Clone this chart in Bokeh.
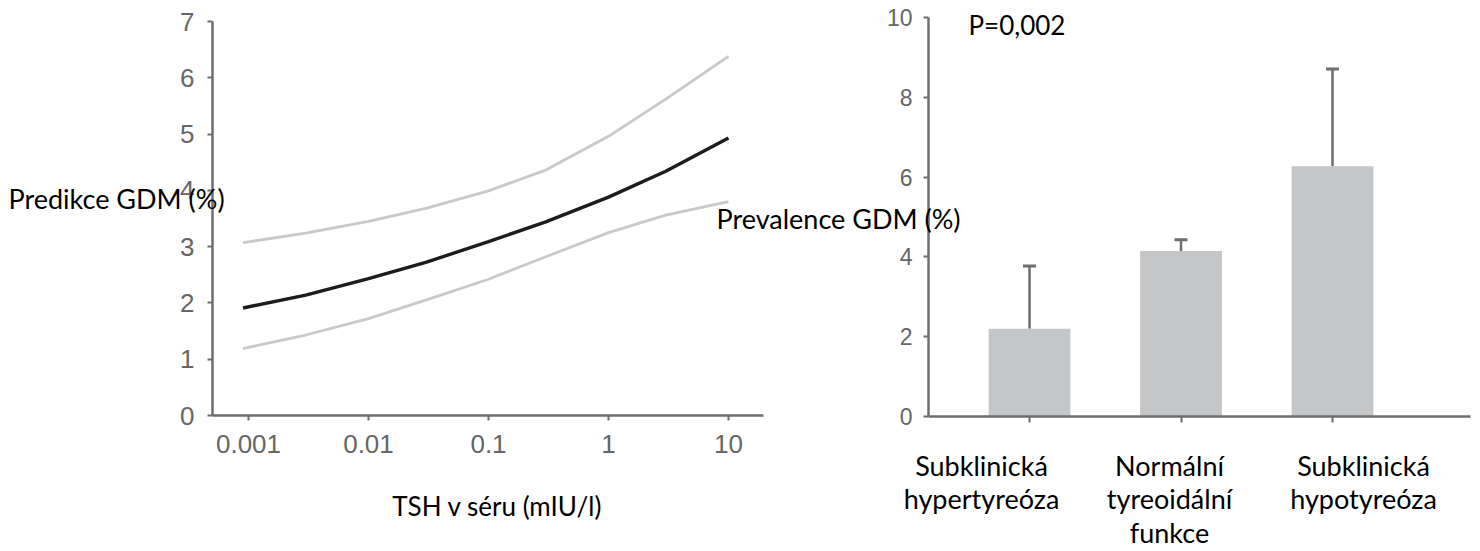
import numpy as np
from bokeh.plotting import figure
from bokeh.models import (Range1d, FixedTicker, NumeralTickFormatter, Label, Whisker,
                          TeeHead, ColumnDataSource, CustomJSTickFormatter)
from bokeh.layouts import row
from bokeh.embed import file_html
from bokeh.resources import INLINE

# ---------------- data: left panel ----------------
tsh = [0.0009, 0.003, 0.01, 0.03, 0.1, 0.3, 1, 3, 10]
gdm_pred = [1.91, 2.14, 2.43, 2.72, 3.09, 3.44, 3.88, 4.34, 4.93]
gdm_upper = [3.07, 3.24, 3.45, 3.68, 3.99, 4.36, 4.96, 5.62, 6.38]
gdm_lower = [1.19, 1.43, 1.72, 2.05, 2.42, 2.82, 3.25, 3.56, 3.80]
x_ticks = [0.001, 0.01, 0.1, 1, 10]
y1_ticks = [0, 1, 2, 3, 4, 5, 6, 7]
x_title = "TSH v séru (mIU/l)"
y1_title = "Predikce  GDM (%)"

# ---------------- data: right panel ----------------
categories = ["Subklinická\nhypertyreóza", "Normální\ntyreoidální\nfunkce", "Subklinická\nhypotyreóza"]
prevalence = [2.2, 4.15, 6.27]
prevalence_upper = [3.77, 4.43, 8.71]
y2_ticks = [0, 2, 4, 6, 8, 10]
y2_title = "Prevalence  GDM (%)"
p_value = "P=0,002"

# ---------------- styles ----------------
AX = "#6e6e6e"
TICK_TXT = "#666666"
TXT_FONT = "Lato"
NUM_FONT = "Liberation Sans"


def no_align(p):
    if "frame_align" in p.properties():
        p.frame_align = False


def style_axes(p, tick_size):
    for ax in (p.xaxis[0], p.yaxis[0]):
        ax.axis_line_color = AX
        ax.axis_line_width = 2.5
        ax.major_tick_line_color = AX
        ax.major_tick_line_width = 2
        ax.major_tick_out = 5
        ax.major_tick_in = 0
        ax.minor_tick_line_color = None
        ax.major_label_text_color = TICK_TXT
        ax.major_label_text_font = NUM_FONT
        ax.major_label_text_font_size = tick_size
    p.xgrid.visible = False
    p.ygrid.visible = False
    p.outline_line_color = None


# ---------------- left figure ----------------
p1 = figure(width=790, height=551, x_axis_type="log",
            x_range=Range1d(10 ** -3.3, 10 ** 1.2917), y_range=Range1d(0, 7),
            output_backend="svg", toolbar_location=None,
            min_border_left=212, min_border_right=27,
            min_border_top=21, min_border_bottom=136)
no_align(p1)
style_axes(p1, "26px")
p1.xaxis.ticker = FixedTicker(ticks=x_ticks)
p1.xaxis.formatter = NumeralTickFormatter(format="0.[000]")
p1.yaxis.ticker = FixedTicker(ticks=y1_ticks)
p1.xaxis.major_label_standoff = 14
p1.yaxis.major_label_standoff = 13

p1.line(tsh, gdm_upper, line_color="#c9c9c9", line_width=2.8)
p1.line(tsh, gdm_lower, line_color="#c9c9c9", line_width=2.8)
p1.line(tsh, gdm_pred, line_color="#1c1c1e", line_width=3.4)

# ---------------- right figure ----------------
idx = list(range(len(categories)))

p2 = figure(width=780, height=551, x_range=Range1d(-0.667, 2.911), y_range=Range1d(0, 10),
            output_backend="svg", toolbar_location=None,
            min_border_left=228, min_border_right=10,
            min_border_top=17, min_border_bottom=135)
no_align(p2)
p2.margin = (0, 0, 0, -90)
p2.border_fill_color = None
style_axes(p2, "23px")
p2.yaxis.ticker = FixedTicker(ticks=y2_ticks)
p2.yaxis.major_label_standoff = 11
p2.xaxis.ticker = FixedTicker(ticks=idx)
p2.xaxis.formatter = CustomJSTickFormatter(code="return ''")
p2.xaxis.major_tick_out = 6

p2.vbar(x=idx, top=prevalence, width=0.54, fill_color="#c5c6c8", line_color=None)

src = ColumnDataSource(dict(base=idx, lower=prevalence, upper=prevalence_upper))
p2.add_layout(Whisker(base="base", lower="lower", upper="upper", source=src,
                      dimension="height", lower_head=None,
                      upper_head=TeeHead(size=13, line_color=AX, line_width=3),
                      line_color=AX, line_width=2.5))

# ---------------- transparent overlay for the free texts (pixel coordinates) ----------------
p3 = figure(width=1480, height=551, x_range=Range1d(0, 1480), y_range=Range1d(551, 0),
            x_axis_location=None, y_axis_location=None, min_border=0,
            output_backend="svg", toolbar_location=None)
no_align(p3)
p3.margin = (0, 0, 0, -1480)
p3.border_fill_color = None
p3.background_fill_color = None
p3.outline_line_color = None
p3.xgrid.visible = False
p3.ygrid.visible = False


def add_text(x, y, text, size, align="left", baseline="middle", line_height=1.2):
    p3.add_layout(Label(x=x, y=y, text=text, text_align=align, text_baseline=baseline,
                        text_font=TXT_FONT, text_font_size=size,
                        text_line_height=line_height, text_color="black"))


add_text(8, 198, y1_title, "27px")
add_text(497, 505, x_title, "26px", align="center")
add_text(716, 218, y2_title, "27px")
add_text(968, 24, p_value, "26px")
cat_centers = [981, 1169, 1363]
for cx, cat in zip(cat_centers, categories):
    add_text(cx, 448, cat, "27px", align="center", baseline="top", line_height=1.03)

layout = row(p1, p2, p3)
open("out.html", "w").write(file_html(layout, INLINE))
